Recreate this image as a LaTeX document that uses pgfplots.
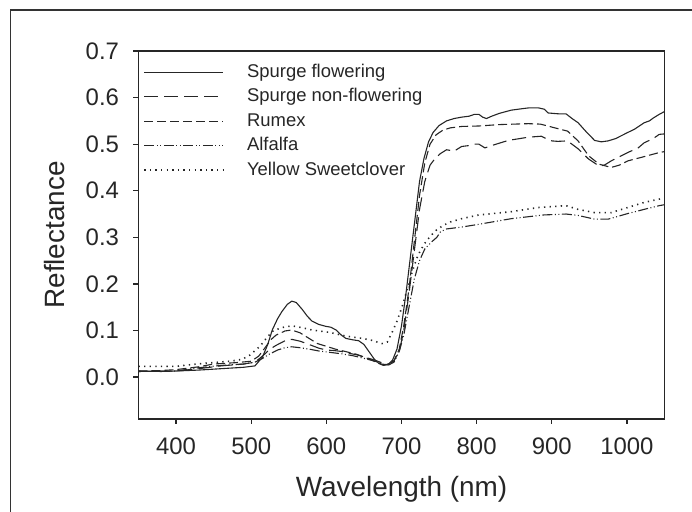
\documentclass[border=0pt]{standalone}
\usepackage{fontspec}
\setmainfont{Liberation Sans}
\usepackage{pgfplots}
\pgfplotsset{compat=1.18}
\begin{document}
\begin{tikzpicture}
\begin{axis}[name=ax, scale only axis, width=526bp, height=368bp,
  xmin=350, xmax=1050, ymin=-0.09, ymax=0.7,
  xtick={400,500,600,700,800,900,1000},
  ytick={0,0.1,0.2,0.3,0.4,0.5,0.6,0.7},
  tick align=outside, xtick pos=bottom, ytick pos=left,
  major tick length=5bp, minor tick num=0,
  axis line style={line width=1.6bp, black!85},
  every tick/.style={line width=1.2bp, black!85},
  /pgf/number format/assume math mode=true,
  ticklabel style={font=\fontsize{24}{28}\selectfont, text=black!85},
  xticklabel style={yshift=-10bp, /pgf/number format/.cd, set thousands separator={}},
  yticklabel style={xshift=-11bp, /pgf/number format/.cd, fixed, fixed zerofill, precision=1},
  label style={font=\fontsize{28}{32}\selectfont, text=black!85},
  xlabel={Wavelength (nm)}, ylabel={Reflectance},
  xlabel style={at={(axis description cs:0.5,-0.19)}, anchor=center},
  ylabel style={at={(axis description cs:-0.16,0.5)}, anchor=center},
  legend cell align=left,
  legend style={draw=none, fill=none, inner sep=0pt, outer sep=0pt, at={(rel axis cs:0,1)}, anchor=north west,
    xshift=5bp, yshift=-12bp, font=\fontsize{18.5}{24}\selectfont, text=black!85,
    nodes={inner sep=0pt, outer sep=0pt, text height=14.5bp, text depth=10bp},
    /tikz/every odd column/.append style={column sep=23bp}},
  legend image code/.code={\draw[#1] (0bp,3bp) -- (79bp,3bp);},
]
\addplot[black!85, line width=1.1bp] coordinates {
(350,0.013) (380,0.012) (400,0.013) (430,0.015) (460,0.018) (490,0.021) (505,0.024)
(515,0.043) (522,0.070) (528,0.101) (535,0.125) (541,0.141) (548,0.156) (554,0.163)
(560,0.160) (568,0.145) (575,0.130) (581,0.120) (590,0.113) (599,0.109) (606,0.107)
(613,0.101) (620,0.090) (626,0.083) (635,0.080) (643,0.078) (650,0.070) (657,0.054)
(664,0.038) (670,0.029) (676,0.025) (682,0.027) (688,0.036) (694,0.060) (700,0.110)
(706,0.180) (712,0.260) (718,0.340) (724,0.420) (730,0.470) (736,0.505) (742,0.525)
(750,0.540) (760,0.550) (770,0.555) (780,0.558) (790,0.560) (797,0.564) (803,0.564)
(808,0.558) (813,0.555) (820,0.560) (830,0.566) (846,0.573) (860,0.576) (870,0.578)
(882,0.578) (890,0.575) (895,0.567) (902,0.566) (910,0.565) (919,0.565) (927,0.555)
(935,0.546) (945,0.528) (957,0.508) (966,0.505) (975,0.507) (985,0.512) (1001,0.525)
(1010,0.532) (1023,0.546) (1030,0.550) (1035,0.556) (1043,0.564) (1050,0.570)
};
\addlegendentry{Spurge flowering}
\addplot[black!85, line width=1.1bp, dash pattern=on 14bp off 6bp] coordinates {
(350,0.012) (400,0.013) (430,0.018) (460,0.024) (490,0.028) (505,0.032) (515,0.045)
(525,0.060) (533,0.068) (545,0.078) (554,0.081) (565,0.077) (577,0.070) (590,0.062)
(600,0.058) (610,0.057) (620,0.055) (630,0.051) (640,0.048) (655,0.041) (665,0.036)
(675,0.030) (683,0.028) (690,0.035) (697,0.055) (703,0.100) (710,0.180) (717,0.270)
(724,0.360) (731,0.420) (738,0.455) (745,0.470) (752,0.480) (760,0.488) (770,0.485)
(780,0.495) (790,0.497) (797,0.500) (803,0.500) (811,0.492) (820,0.497) (842,0.508)
(869,0.515) (886,0.517) (895,0.510) (900,0.507) (908,0.506) (921,0.507) (935,0.490)
(949,0.468) (963,0.453) (970,0.455) (979,0.464) (1001,0.482) (1015,0.492) (1023,0.503)
(1035,0.512) (1043,0.521) (1050,0.522)
};
\addlegendentry{Spurge non-flowering}
\addplot[black!85, line width=1.1bp, dash pattern=on 9bp off 4bp] coordinates {
(350,0.013) (380,0.014) (400,0.016) (430,0.022) (450,0.028) (480,0.031) (500,0.034)
(510,0.045) (518,0.062) (526,0.080) (533,0.090) (545,0.099) (554,0.101) (565,0.095)
(577,0.083) (588,0.072) (600,0.066) (612,0.060) (625,0.055) (640,0.049) (655,0.040)
(665,0.033) (675,0.027) (683,0.027) (690,0.035) (697,0.060) (703,0.110) (710,0.190)
(717,0.290) (724,0.390) (731,0.460) (738,0.500) (746,0.520) (755,0.530) (765,0.535)
(780,0.538) (803,0.539) (830,0.542) (869,0.544) (885,0.543) (904,0.535) (921,0.528)
(935,0.507) (949,0.475) (963,0.457) (979,0.450) (990,0.455) (1001,0.464) (1020,0.472)
(1043,0.482) (1050,0.484)
};
\addlegendentry{Rumex}
\addplot[black!85, line width=1.1bp, dash pattern=on 10bp off 2.5bp on 1bp off 2.5bp on 1bp off 2.5bp] coordinates {
(350,0.012) (400,0.013) (430,0.020) (460,0.025) (490,0.028) (505,0.032) (515,0.040)
(525,0.050) (535,0.058) (545,0.063) (554,0.065) (565,0.063) (577,0.060) (590,0.056)
(600,0.054) (620,0.050) (635,0.046) (648,0.041) (665,0.034) (675,0.028) (683,0.026)
(690,0.032) (697,0.055) (703,0.090) (710,0.150) (717,0.210) (724,0.250) (731,0.275)
(740,0.290) (747,0.300) (752,0.312) (760,0.318) (780,0.322) (803,0.328) (846,0.340)
(889,0.348) (919,0.350) (935,0.347) (957,0.339) (975,0.339) (1001,0.351) (1023,0.360)
(1043,0.368) (1050,0.370)
};
\addlegendentry{Alfalfa}
\addplot[black!85, line width=1.6bp, dash pattern=on 1.3bp off 4.3bp] coordinates {
(350,0.023) (400,0.023) (427,0.028) (450,0.031) (471,0.034) (488,0.038) (498,0.047)
(511,0.065) (520,0.083) (528,0.098) (540,0.106) (554,0.110) (568,0.106) (581,0.101)
(604,0.096) (626,0.088) (648,0.083) (660,0.079) (674,0.072) (681,0.075) (687,0.094)
(694,0.120) (701,0.152) (708,0.190) (715,0.230) (722,0.262) (730,0.285) (738,0.302)
(746,0.315) (755,0.325) (765,0.333) (780,0.340) (803,0.348) (846,0.355) (882,0.364)
(919,0.368) (935,0.360) (957,0.353) (979,0.353) (1001,0.364) (1023,0.375) (1043,0.382)
(1050,0.384)
};
\addlegendentry{Yellow Sweetclover}
\end{axis}
\path[use as bounding box] ([shift={(-138.5bp,-93bp)}]ax.south west) rectangle ([shift={(27.5bp,51bp)}]ax.north east);
\draw[line width=1.5bp, black!80] ([shift={(-128bp,-93bp)}]ax.south west) |- ([shift={(27.5bp,41bp)}]ax.north east);
\end{tikzpicture}
\end{document}
